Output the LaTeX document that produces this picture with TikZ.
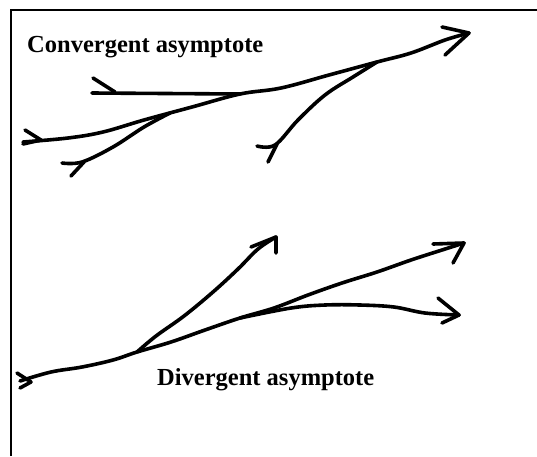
\documentclass[tikz,border=0pt]{standalone}
\usepackage{fontspec}
\setmainfont{Liberation Serif}
\usetikzlibrary{positioning}

\begin{document}
\begin{tikzpicture}[x=1pt, y=-1pt,
  sketch/.style={line width=3.6pt, line cap=round, line join=round},
  heading/.style={anchor=base west, inner sep=0pt,
    font=\fontsize{24.5}{28}\selectfont\bfseries}
]
\useasboundingbox (0,0) rectangle (537,456);
\draw[line width=2pt] (11,456) -- (11,10) -- (537,10);
% Convergent asymptote
\node[heading] (conv) at (27,52) {Convergent asymptote};
\coordinate (ctip) at (469,33);
\coordinate (cjoinA) at (240,94);
\coordinate (cjoinB) at (170,113);
\coordinate (cjoinC) at (377,62);
\draw[sketch] plot[smooth, tension=0.6] coordinates {(23,142) (68,138) (103,132) (144,120)
  (192,107) (cjoinA) (281,88) (329,75) (cjoinC) (411,53) (445,40) (ctip)};
\draw[sketch] (442,27) -- (ctip) -- (445,55);
\draw[sketch] (25,130) -- (41,140) -- (23,144);
\draw[sketch] (92,93) -- (cjoinA);
\draw[sketch] (93,78) -- (115,92);
\draw[sketch] plot[smooth, tension=0.6] coordinates {(62,163) (82,162) (113,147) (144,127) (cjoinB)};
\draw[sketch] (71,176) -- (84,162);
\draw[sketch] plot[smooth, tension=0.6] coordinates {(257,146) (275,145) (298,120) (325,95) (353,77) (cjoinC)};
\draw[sketch] (268,162) -- (277,144);
% Divergent asymptote
\node[heading] (div) at (157,385) {Divergent asymptote};
\coordinate (dtipA) at (464,243);
\coordinate (dtipB) at (276,237);
\coordinate (dtipC) at (459,315);
\coordinate (dsplitA) at (137,352);
\coordinate (dsplitB) at (240,318);
\draw[sketch] plot[smooth, tension=0.6] coordinates {(20,381) (51,372) (82,367) (113,360) (dsplitA)
  (171,342) (205,330) (dsplitB) (274,308) (308,295) (342,283) (377,272) (411,260) (442,250) (dtipA)};
\draw[sketch] (433,244) -- (dtipA) -- (453,263);
\draw[sketch] (17,373) -- (31,382) -- (20,388);
\draw[sketch] plot[smooth, tension=0.6] coordinates {(dsplitA) (156,336) (184,316) (213,292) (238,269) (258,249) (dtipB)};
\draw[sketch] (251,247) -- (dtipB) -- (276,253);
\draw[sketch] plot[smooth, tension=0.6] coordinates {(dsplitB) (291,308) (325,305) (360,305) (394,307) (425,313) (dtipC)};
\draw[sketch] (438,298) -- (dtipC) -- (442,323);
\end{tikzpicture}
\end{document}
